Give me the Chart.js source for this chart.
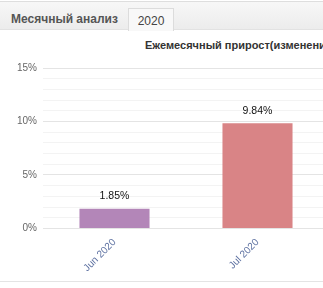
<!DOCTYPE html>
<html lang="ru">
<head>
<meta charset="UTF-8">
<title>Monthly</title>
<script src="https://cdn.jsdelivr.net/npm/chart.js"></script>
<style>
    body {
        margin: 0;
        width: 323px;
        height: 288px;
        overflow: hidden;
        background: #fff;
        font-family: Arial, "Liberation Sans", sans-serif;
        position: relative;
    }
    .tabs {
        position: absolute;
        left: 0; top: 1px;
        width: 323px; height: 27px;
        border-top: 1px solid #dedede;
        border-bottom: 1px solid #e2e2e2;
        background: linear-gradient(#f7f7f7, #ececec);
    }
    .tab-main {
        position: absolute;
        left: 11px; top: 10px;
        font-size: 12px; font-weight: bold; color: #555;
    }
    .tab-year {
        position: absolute;
        left: 128px; top: 6px;
        width: 44px; height: 22px;
        background: #f8f8f8;
        border: 1px solid #dcdcdc;
        border-bottom: none;
        font-size: 12px; color: #444;
        text-align: center; line-height: 24px;
    }
    .title {
        position: absolute;
        left: 145px; top: 39px;
        white-space: nowrap;
        font-size: 11px; font-weight: bold; color: #333;
    }
    .wrap {
        position: absolute;
        left: 0; top: 56px;
        width: 329px; height: 218px;
    }
    .bottom-line {
        position: absolute;
        left: 0; top: 281px;
        width: 323px; height: 0;
        border-top: 1px solid #e4e4e4;
    }
</style>
</head>
<body>
<div class="tabs">
    <div class="tab-main">Месячный анализ</div>
    <div class="tab-year">2020</div>
</div>
<div class="title">Ежемесячный прирост(изменение)</div>
<div class="wrap"><canvas id="myChart"></canvas></div>
<div class="bottom-line"></div>

<script>
    // данные
    const months = ['Jun 2020', 'Jul 2020'];
    const growth = [1.85, 9.84];
    const barColors = ['#b386b8', '#d98486'];

    // подписи над столбиками
    const valueLabels = {
        id: 'valueLabels',
        afterDatasetsDraw(chart) {
            const ctx = chart.ctx;
            const meta = chart.getDatasetMeta(0);
            ctx.save();
            ctx.font = '10.5px Arial, "Liberation Sans", sans-serif';
            ctx.fillStyle = '#111';
            ctx.textAlign = 'center';
            ctx.textBaseline = 'bottom';
            meta.data.forEach((bar, i) => {
                ctx.fillText(growth[i].toFixed(2) + '%', bar.x, bar.y - 7);
            });
            ctx.restore();
        }
    };

    const ctx = document.getElementById('myChart').getContext('2d');
    new Chart(ctx, {
        type: 'bar',
        data: {
            labels: months,
            datasets: [{
                data: growth,
                backgroundColor: barColors,
                borderWidth: 0,
                barPercentage: 0.49,
                categoryPercentage: 1
            }]
        },
        options: {
            responsive: true,
            maintainAspectRatio: false,
            animation: false,
            layout: { padding: { top: 9, right: 0, left: 0, bottom: 0 } },
            plugins: {
                legend: { display: false },
                tooltip: { enabled: false }
            },
            scales: {
                y: {
                    min: 0,
                    max: 15,
                    border: { display: false },
                    grid: {
                        drawTicks: false,
                        color: c => (c.tick.value % 5 === 0 ? '#e4e4e4' : '#f3f3f3')
                    },
                    ticks: {
                        stepSize: 1,
                        autoSkip: false,
                        padding: 6,
                        color: '#666',
                        font: { size: 10, family: 'Arial, "Liberation Sans", sans-serif' },
                        callback: v => (v % 5 === 0 ? v + '%' : '')
                    },
                    afterFit: s => { s.width = 43; }
                },
                x: {
                    border: { display: false },
                    grid: { display: false },
                    ticks: {
                        maxRotation: 45,
                        minRotation: 45,
                        padding: 0,
                        color: '#5b6fa0',
                        font: { size: 10, family: 'Arial, "Liberation Sans", sans-serif' }
                    }
                }
            }
        },
        plugins: [valueLabels]
    });
</script>
</body>
</html>
